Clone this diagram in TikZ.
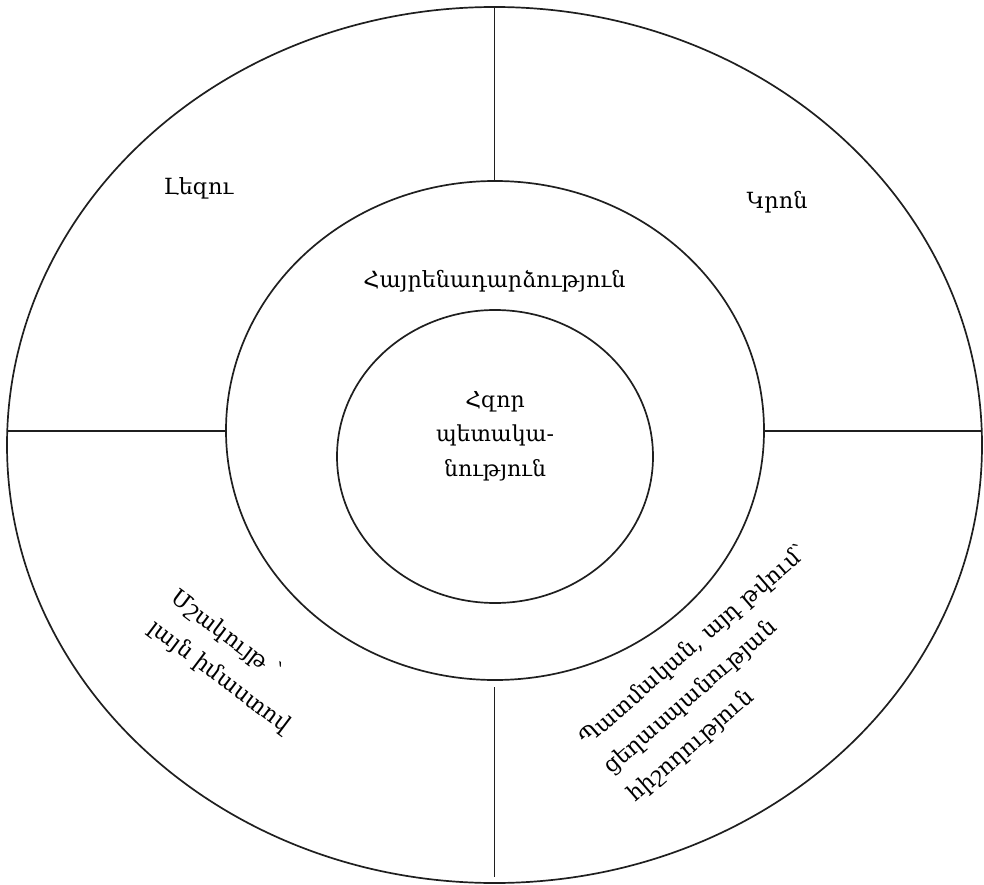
\documentclass[tikz,border=0pt]{standalone}
\usepackage{fontspec}
\setmainfont{DejaVu Serif}
\begin{document}
\begin{tikzpicture}[x=1pt,y=-1pt,
  ring/.style={draw=black!88, line width=1.7pt},
  sep/.style={draw=black!88, line width=1.7pt},
  lab/.style={font=\fontsize{22.3}{28}\selectfont, inner sep=0pt},
  mid/.style={font=\fontsize{22}{34.5}\selectfont, inner sep=0pt, align=center},
  slant/.style={font=\fontsize{22.5}{37}\selectfont, inner sep=0pt, align=left}]
\useasboundingbox (0,0) rectangle (984,885);
% rings
\draw[ring] (494.5,445) ellipse [x radius=487.5, y radius=438];
\draw[ring] (495,430.5) ellipse [x radius=269, y radius=249.5];
\draw[ring] (495,456.5) ellipse [x radius=158, y radius=146.5];
% separators
\coordinate (topA) at (494.5,7);
\coordinate (topB) at (494.5,181);
\coordinate (leftA) at (7.3,430.7);
\coordinate (leftB) at (226,430.7);
\coordinate (rightA) at (764,430.7);
\coordinate (rightB) at (981.7,430.7);
\coordinate (botA) at (494.5,687);
\coordinate (botB) at (494.5,877);
\draw[sep] (topA) -- (topB);
\draw[sep] (leftA) -- (leftB);
\draw[sep] (rightA) -- (rightB);
\draw[sep] (botA) -- (botB);
% labels
\node[lab, anchor=base] (lezu) at (198.5,195) {Լեզու};
\node[lab, anchor=base] (kron) at (777,209) {Կրոն};
\node[lab, anchor=base] (hayr) at (494.5,287) {Հայրենադարձություն};
\node[mid] (hzor) at (495,436) {Հզոր\\պետակա-\\նություն};
\node[slant, anchor=west, rotate=-37] (mshak) at (162,610) {Մշակույթ ՝\\լայն իմաստով};
\node[slant, anchor=west, rotate=41] (patm) at (607,770) {Պատմական, այդ թվում՝\\ցեղասպանության\\հիշողություն};
\end{tikzpicture}
\end{document}
